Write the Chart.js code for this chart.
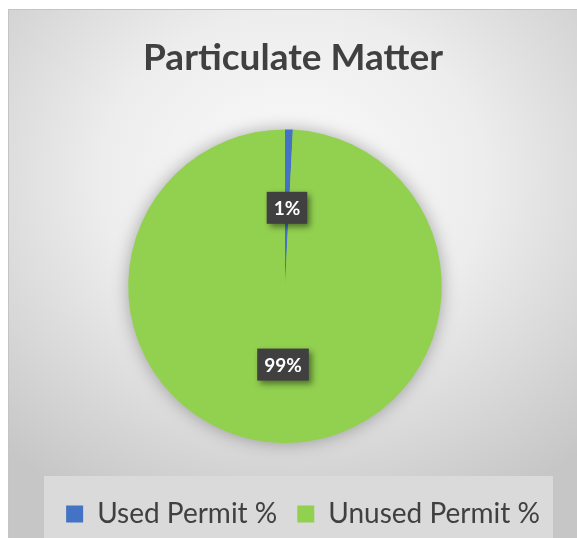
<!DOCTYPE html>
<html>
<head>
<meta charset="utf-8">
<script src="https://cdn.jsdelivr.net/npm/chart.js@4"></script>
<style>
    html, body { margin: 0; padding: 0; background: #ffffff; }
    #frame {
        position: absolute; left: 8px; top: 9px; width: 569px; height: 529px;
        border-top: 1px solid #c4c4c4; border-left: 1px solid #c4c4c4;
        box-sizing: border-box;
        background: radial-gradient(ellipse 75% 70% at 50% 32%, #fbfbfb 0%, #ededed 45%, #d4d4d4 80%, #c6c6c6 100%);
    }
</style>
</head>
<body>
<div id="frame"><canvas id="myChart"></canvas></div>
<script>
//Pie chart of permit use

const categories = ['Used Permit %', 'Unused Permit %'];   //legend labels
const permitValues = [0.8, 99.2];                           //share of permit
const sliceColors = ['#4472C4', '#92D050'];

//shift pie and legend a bit (the original is not centred) and leave room above the legend
const nudge = {
    id: 'nudge',
    afterLayout(chart) {
        const area = chart.chartArea;
        area.left -= 8;
        area.right -= 8;
        area.bottom -= 37;
        area.height -= 37;
        chart.legend.left += 10;
        chart.legend.right += 10;
    }
};

//grey box behind the legend
const legendBox = {
    id: 'legendBox',
    beforeDraw(chart) {
        const ctx = chart.ctx;
        const top = chart.legend.top - 4;
        ctx.save();
        ctx.fillStyle = '#dadada';
        ctx.fillRect(35, top, 509, chart.height - top);
        ctx.restore();
    }
};

//soft shadow under the pie
const pieShadow = {
    id: 'pieShadow',
    beforeDatasetsDraw(chart) {
        const arc = chart.getDatasetMeta(0).data[0];
        const ctx = chart.ctx;
        ctx.save();
        ctx.shadowColor = 'rgba(0,0,0,0.35)';
        ctx.shadowBlur = 18;
        ctx.fillStyle = sliceColors[1];
        ctx.beginPath();
        ctx.arc(arc.x, arc.y, arc.outerRadius - 1, 0, Math.PI * 2);
        ctx.fill();
        ctx.restore();
    }
};

//dark percentage boxes
const dataLabels = {
    id: 'dataLabels',
    afterDatasetsDraw(chart) {
        const ctx = chart.ctx;
        const total = permitValues.reduce((a, b) => a + b, 0);
        chart.getDatasetMeta(0).data.forEach((arc, i) => {
            const p = arc.getCenterPoint();
            const text = Math.round(permitValues[i] / total * 100) + '%';
            ctx.save();
            ctx.font = 'bold 19px Lato';
            const w = ctx.measureText(text).width + 14;
            const h = 32;
            ctx.shadowColor = 'rgba(0,0,0,0.45)';
            ctx.shadowBlur = 6;
            ctx.shadowOffsetX = 3;
            ctx.shadowOffsetY = 3;
            ctx.fillStyle = '#404040';
            ctx.fillRect(p.x - w / 2, p.y - h / 2, w, h);
            ctx.shadowColor = 'transparent';
            ctx.fillStyle = '#ffffff';
            ctx.textAlign = 'center';
            ctx.textBaseline = 'middle';
            ctx.fillText(text, p.x, p.y + 1);
            ctx.restore();
        });
    }
};

const ctx = document.getElementById('myChart');
const myChart = new Chart(ctx, {
    type: 'pie',
    data: {
        labels: categories,
        datasets: [{
            data: permitValues,
            backgroundColor: sliceColors,
            borderWidth: 0
        }]
    },
    options: {
        responsive: true,
        maintainAspectRatio: false,
        animation: false,
        plugins: {
            title: {
                display: true,
                text: 'Particulate Matter',
                color: '#404040',
                font: { family: 'Lato', size: 37, weight: 'bold' },
                padding: { top: 26, bottom: 49 }
            },
            legend: {
                position: 'bottom',
                labels: {
                    color: '#404040',
                    font: { family: 'Lato', size: 28 },
                    boxWidth: 17,
                    boxHeight: 17,
                    padding: 20
                }
            },
            tooltip: { enabled: false }
        }
    },
    plugins: [nudge, legendBox, pieShadow, dataLabels]
});
</script>
</body>
</html>
